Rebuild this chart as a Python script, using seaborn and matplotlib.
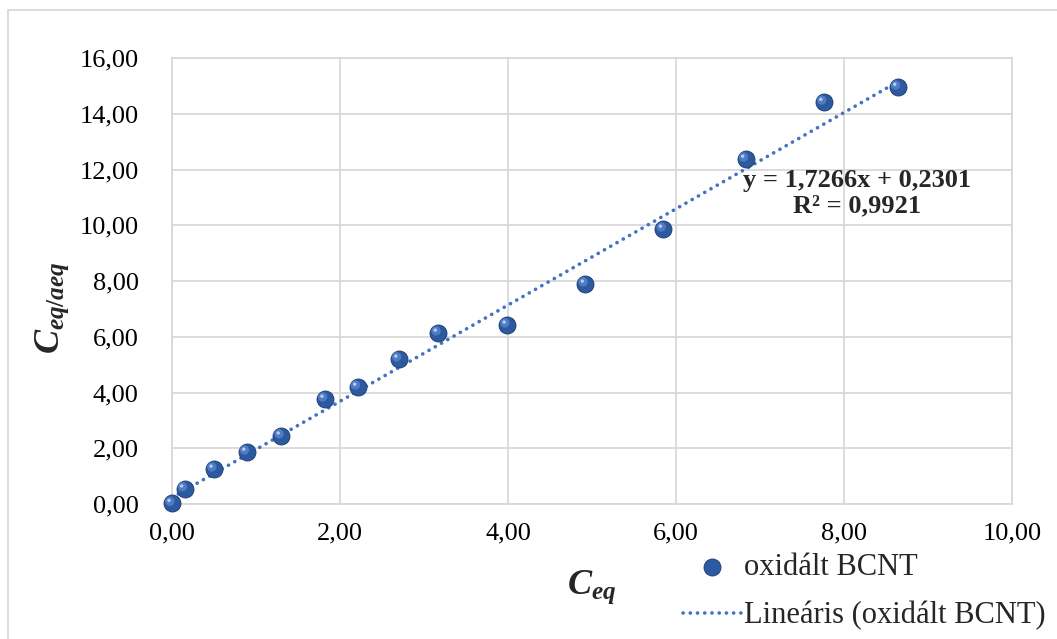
import numpy as np
import pandas as pd
import matplotlib
matplotlib.use("Agg")
import matplotlib.pyplot as plt
import matplotlib.transforms as mtransforms
from matplotlib.patches import Rectangle
from matplotlib.ticker import FuncFormatter
import seaborn as sns

# ---- data ----
c_eq = [0.00, 0.15, 0.50, 0.89, 1.30, 1.82, 2.21, 2.70, 3.17, 3.99, 4.92, 5.85, 6.83, 7.76, 8.64]
c_eq_aeq = [0.02, 0.54, 1.25, 1.86, 2.44, 3.76, 4.19, 5.20, 6.13, 6.42, 7.89, 9.86, 12.37, 14.41, 14.95]
slope = 1.7266
intercept = 0.2301
r2 = 0.9921
series_label = "oxidált BCNT"
trend_label = "Lineáris (oxidált BCNT)"
x_ticks = [0, 2, 4, 6, 8, 10]
y_ticks = [0, 2, 4, 6, 8, 10, 12, 14, 16]

df = pd.DataFrame({"x": c_eq, "y": c_eq_aeq})
trend_x = [0.0, max(c_eq)]
trend = pd.DataFrame({"x": trend_x, "y": [slope * v + intercept for v in trend_x]})

sns.set_theme(style="white")
plt.rcParams["font.family"] = ["Liberation Serif", "DejaVu Serif"]
plt.rcParams["mathtext.fontset"] = "custom"
plt.rcParams["mathtext.it"] = "Liberation Serif:italic:bold"
plt.rcParams["mathtext.rm"] = "Liberation Serif:bold"
plt.rcParams["mathtext.bf"] = "Liberation Serif:bold"

W, H = 1057, 639
fig = plt.figure(figsize=(W / 100, H / 100), dpi=100)
fig.patch.set_facecolor("white")
ax = fig.add_axes([172 / W, 1 - 504 / H, (1012 - 172) / W, (504 - 58) / H])

grid_c = "#D9D9D9"
blue_line = "#4472C4"

# trendline
sns.lineplot(data=trend, x="x", y="y", ax=ax, color=blue_line, lw=2.6,
             linestyle=(0, (0.05, 1.95)), label=trend_label, zorder=2)
for ln in ax.get_lines():
    ln.set_dash_capstyle("round")

# points (3D-ish sphere look)
sns.scatterplot(data=df, x="x", y="y", ax=ax, s=150, color="#2C5AA0",
                edgecolor="#1B3A6B", linewidth=0.6, label=series_label, zorder=3,
                clip_on=False)
hl = mtransforms.offset_copy(ax.transData, fig=fig, x=-2.2, y=2.2, units="dots")
ax.scatter(df["x"], df["y"], s=45, color="#4F7CC4", edgecolor="none",
           transform=hl, zorder=4, clip_on=False)
hl2 = mtransforms.offset_copy(ax.transData, fig=fig, x=-3, y=3, units="dots")
ax.scatter(df["x"], df["y"], s=6, color="#B9CCEB", edgecolor="none",
           transform=hl2, zorder=5, clip_on=False)

ax.set_xlim(0, 10)
ax.set_ylim(0, 16)
ax.set_xticks(x_ticks)
ax.set_yticks(y_ticks)
fmt = FuncFormatter(lambda v, p: f"{v:.2f}".replace(".", ","))
ax.xaxis.set_major_formatter(fmt)
ax.yaxis.set_major_formatter(fmt)
ax.tick_params(axis="both", length=0, labelsize=19, colors="black")
ax.tick_params(axis="x", pad=13)
ax.tick_params(axis="y", pad=24)
ax.grid(True, color=grid_c, lw=1.3)
for sp in ax.spines.values():
    sp.set_visible(True)
    sp.set_color(grid_c)
    sp.set_linewidth(1.3)
ax.set_axisbelow(True)
ax.set_xlabel("")
ax.set_ylabel("")

# equation
ax.text(8.15, 11.15, f"y = {slope:.4f}x + {intercept:.4f}\nR² = {r2:.4f}".replace(".", ","),
        ha="center", va="center", multialignment="center", fontsize=19,
        fontweight="bold", linespacing=1.1, zorder=6)

# axis labels
fig.text(592 / W, 1 - 587 / H, r"$C_{eq}$", fontsize=26, ha="center", va="center")
fig.text(52 / W, 1 - 308 / H, r"$C_{eq/aeq}$", fontsize=26, ha="center", va="center",
         rotation=90)

# legend outside
handles, labels = ax.get_legend_handles_labels()
ax.get_legend().remove()
order = [labels.index(series_label), labels.index(trend_label)]
fig.legend([handles[i] for i in order], [labels[i] for i in order],
           loc="upper left", bbox_to_anchor=(683 / W, 1 - 553 / H),
           frameon=False, fontsize=22, borderpad=0, borderaxespad=0,
           handlelength=1.9, handletextpad=0.1, labelspacing=0.62,
           markerscale=1.0)

# outer chart border
fig.patches.append(Rectangle((8 / W, -0.2), 1.2, 1 - 10 / H + 0.2, transform=fig.transFigure,
                             fill=False, edgecolor=grid_c, lw=1.3))

fig.savefig("out.png", dpi=100)
